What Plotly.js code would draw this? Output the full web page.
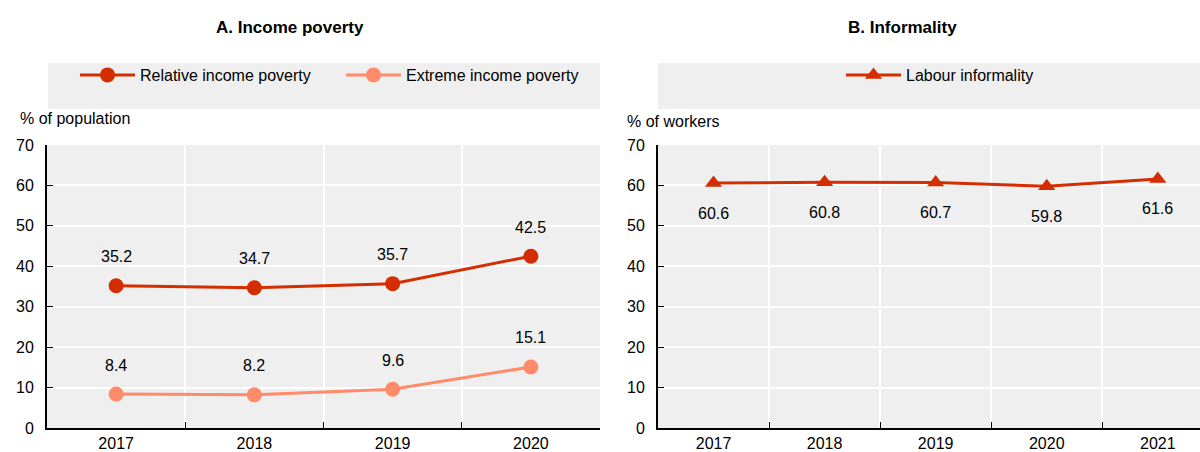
<!DOCTYPE html>
<html><head><meta charset="utf-8">
<script src="https://cdn.plot.ly/plotly-3.0.1.min.js"></script>
<style>html,body{margin:0;padding:0;background:#fff}#c{width:1200px;height:452px}</style>
</head><body><div id="c"></div>
<script>
const yearsA = ['2017','2018','2019','2020'];
const relativePoverty = [35.2, 34.7, 35.7, 42.5];
const extremePoverty = [8.4, 8.2, 9.6, 15.1];
const yearsB = ['2017','2018','2019','2020','2021'];
const labourInformality = [60.6, 60.8, 60.7, 59.8, 61.6];
const yTicks = [0,10,20,30,40,50,60,70];

const FONT = '"Liberation Sans", Arial, sans-serif';
const RED = '#D42E00';
const SALMON = '#FF8B6A';
const BG = '#EFEFEF';

const traces = [
  {x: yearsA, y: relativePoverty, name: 'Relative income poverty', type: 'scatter', mode: 'lines+markers',
   line: {color: RED, width: 3}, marker: {color: RED, size: 15, symbol: 'circle'}, xaxis: 'x', yaxis: 'y', legend: 'legend'},
  {x: yearsA, y: extremePoverty, name: 'Extreme income poverty', type: 'scatter', mode: 'lines+markers',
   line: {color: SALMON, width: 3}, marker: {color: SALMON, size: 15, symbol: 'circle'}, xaxis: 'x', yaxis: 'y', legend: 'legend'},
  {x: yearsB, y: labourInformality, name: 'Labour informality', type: 'scatter', mode: 'lines+markers',
   line: {color: RED, width: 3}, marker: {color: RED, size: 15, symbol: 'triangle-up'}, xaxis: 'x2', yaxis: 'y2', legend: 'legend2'}
];

const annotations = [];
function labels(xs, ys, xref, yref, shift) {
  xs.forEach((x, i) => annotations.push({x: i, y: ys[i], xref: xref, yref: yref, text: ys[i].toFixed(1),
    showarrow: false, yshift: shift, xanchor: 'center', yanchor: 'middle', font: {size: 16, color: '#000', family: FONT}}));
}
labels(yearsA, relativePoverty, 'x', 'y', 29);
labels(yearsA, extremePoverty, 'x', 'y', 29);
labels(yearsB, labourInformality, 'x2', 'y2', -30);

annotations.push(
  {text: '<b>A. Income poverty</b>', x: 290/1200, y: 1-28/452, xref: 'paper', yref: 'paper', showarrow: false, xanchor: 'center', yanchor: 'middle', font: {size: 17, family: FONT, color: '#000'}},
  {text: '<b>B. Informality</b>', x: 902/1200, y: 1-28/452, xref: 'paper', yref: 'paper', showarrow: false, xanchor: 'center', yanchor: 'middle', font: {size: 17, family: FONT, color: '#000'}},
  {text: '% of population', x: 18/1200, y: 1-118/452, xref: 'paper', yref: 'paper', showarrow: false, xanchor: 'left', yanchor: 'middle', font: {size: 16, family: FONT, color: '#000'}},
  {text: '% of workers', x: 625/1200, y: 1-121/452, xref: 'paper', yref: 'paper', showarrow: false, xanchor: 'left', yanchor: 'middle', font: {size: 16, family: FONT, color: '#000'}}
);

const yDom = [1-428/452, 1-145/452];
function xax(domain, range) {
  return {domain: domain, type: 'category', range: range, tickson: 'boundaries', ticks: 'inside', ticklen: 6, tickcolor: '#000',
    showgrid: true, gridcolor: '#fff', gridwidth: 2, showline: true, linecolor: '#000', linewidth: 2, zeroline: false,
    tickfont: {size: 16, family: FONT, color: '#000'}, fixedrange: true, automargin: false};
}
function yax(anchor) {
  return {domain: yDom, anchor: anchor, range: [0, 70], tickvals: yTicks, ticks: 'inside', ticklen: 6, tickcolor: '#000',
    showgrid: true, gridcolor: '#fff', gridwidth: 2, showline: true, linecolor: '#000', linewidth: 2, zeroline: false,
    tickfont: {size: 16, family: FONT, color: '#000'}, ticklabelstandoff: 8, automargin: false};
}

const layout = {
  width: 1200, height: 452, margin: {l: 0, r: 0, t: 0, b: 0},
  paper_bgcolor: '#fff', plot_bgcolor: BG, showlegend: true,
  font: {family: FONT, color: '#000'},
  xaxis: Object.assign(xax([47/1200, 600/1200], [-0.5, 3.5]), {anchor: 'y'}),
  yaxis: yax('x'),
  xaxis2: Object.assign(xax([658/1200, 1], [-0.5, 4.38]), {anchor: 'y2'}),
  yaxis2: yax('x2'),
  legend: {orientation: 'h', x: 341/1200, y: 1-75/452, xanchor: 'center', yanchor: 'middle', bgcolor: 'rgba(0,0,0,0)',
    font: {size: 16, family: FONT, color: '#000'}, itemwidth: 55, entrywidth: 196},
  legend2: {orientation: 'h', x: 940/1200, y: 1-75/452, xanchor: 'center', yanchor: 'middle', bgcolor: 'rgba(0,0,0,0)',
    font: {size: 16, family: FONT, color: '#000'}, itemwidth: 55},
  shapes: [
    {type: 'rect', xref: 'paper', yref: 'paper', x0: 48/1200, x1: 600/1200, y0: 1-109/452, y1: 1-63/452, fillcolor: BG, line: {width: 0}, layer: 'below'},
    {type: 'rect', xref: 'paper', yref: 'paper', x0: 658/1200, x1: 1, y0: 1-109/452, y1: 1-63/452, fillcolor: BG, line: {width: 0}, layer: 'below'}
  ],
  annotations: annotations
};

Plotly.newPlot('c', traces, layout, {displayModeBar: false, staticPlot: true});
</script></body></html>
